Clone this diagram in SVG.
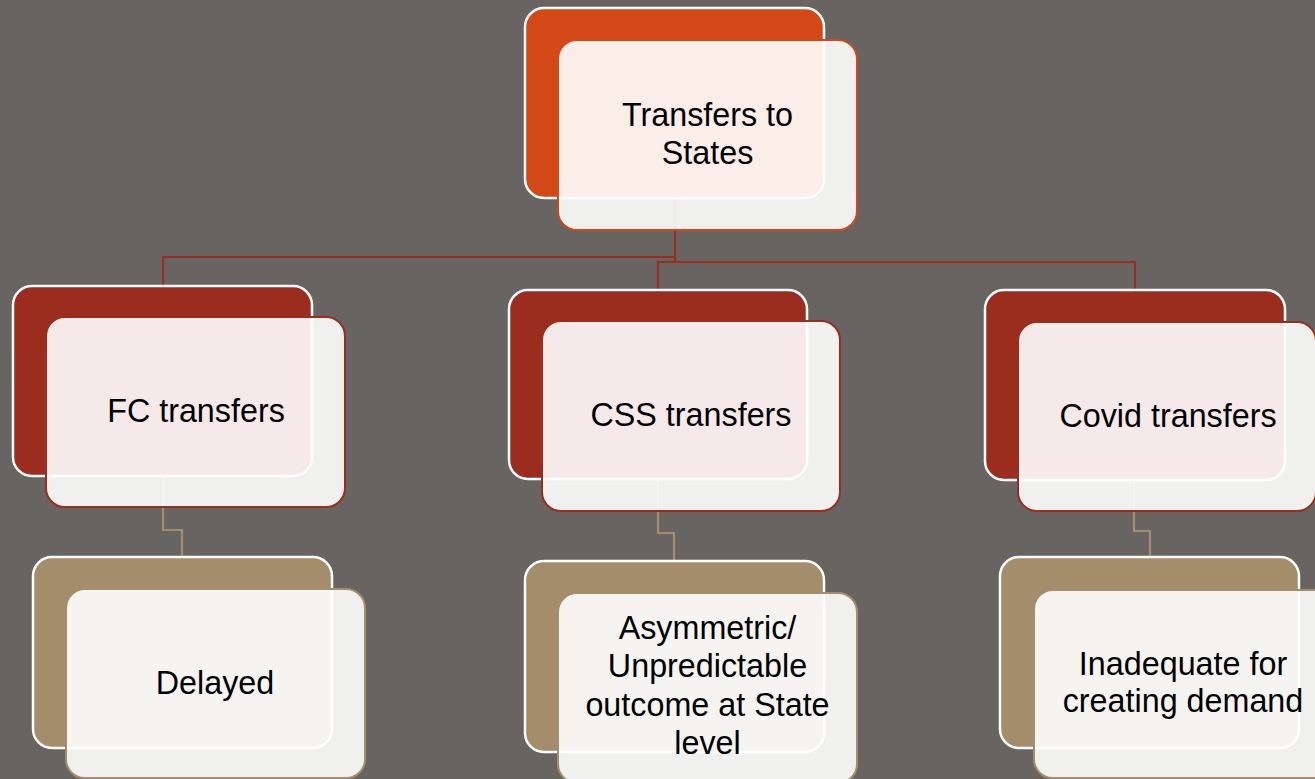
<svg xmlns="http://www.w3.org/2000/svg" width="1315" height="779" viewBox="0 0 1315 779">
<style>
.bg{fill:#686462}
.back{stroke:#ffffff;stroke-width:2.5}
.front{fill:#ffffff;fill-opacity:0.9;stroke-width:2}
.o .back{fill:#D34817}
.o .front{stroke:#D34817}
.r .back{fill:#9B2D1F}
.r .front{stroke:#9B2D1F}
.t .back{fill:#A38D6B}
.t .front{stroke:#A38D6B}
text{font-family:"Liberation Sans",Arial,sans-serif;font-size:32.3px;fill:#000;text-anchor:middle}
.c1{fill:none;stroke:#9B2D1F;stroke-width:2.2}
.c2{fill:none;stroke:#A38D6B;stroke-width:2.2}
</style>
<rect class="bg" x="0" y="0" width="1315" height="779"/>
<g id="connectors">
<path class="c1" d="M675,198 V257 H163 V287"/>
<path class="c1" d="M675,257 V262 M658,291 V262 H1135 V291"/>
<path class="c2" d="M163,476 V530 H182 V558"/>
<path class="c2" d="M658,479 V533 H674 V562"/>
<path class="c2" d="M1134,480 V531 H1150 V558"/>
</g>
<g id="root" class="o">
<rect class="back" x="525" y="8" width="299" height="190" rx="19"/>
<rect class="front" x="558" y="40" width="299" height="190" rx="19"/>
<text x="707.5" y="126">Transfers to</text>
<text x="707.5" y="164">States</text>
</g>
<g id="fc" class="r">
<rect class="back" x="13" y="286" width="299" height="190" rx="19"/>
<rect class="front" x="46" y="317" width="299" height="190" rx="19"/>
<text x="196" y="422">FC transfers</text>
</g>
<g id="css" class="r">
<rect class="back" x="509" y="290" width="298" height="189" rx="19"/>
<rect class="front" x="542" y="321" width="298" height="190" rx="19"/>
<text x="691" y="426">CSS transfers</text>
</g>
<g id="covid" class="r">
<rect class="back" x="985" y="290" width="300" height="190" rx="19"/>
<rect class="front" x="1018" y="322" width="298" height="189" rx="19"/>
<text x="1168" y="427">Covid transfers</text>
</g>
<g id="delayed" class="t">
<rect class="back" x="33" y="557" width="299" height="191" rx="19"/>
<rect class="front" x="66" y="589" width="299" height="189" rx="19"/>
<text x="215" y="694">Delayed</text>
</g>
<g id="asym" class="t">
<rect class="back" x="525" y="561" width="299" height="191" rx="19"/>
<rect class="front" x="558" y="593" width="299" height="190" rx="19"/>
<text x="707.5" y="639">Asymmetric/</text>
<text x="707.5" y="677">Unpredictable</text>
<text x="707.5" y="716">outcome at State</text>
<text x="707.5" y="754">level</text>
</g>
<g id="inadequate" class="t">
<rect class="back" x="1000" y="557" width="299" height="191" rx="19"/>
<rect class="front" x="1034" y="590" width="299" height="188" rx="19"/>
<text x="1183" y="675">Inadequate for</text>
<text x="1183" y="712">creating demand</text>
</g>
</svg>
